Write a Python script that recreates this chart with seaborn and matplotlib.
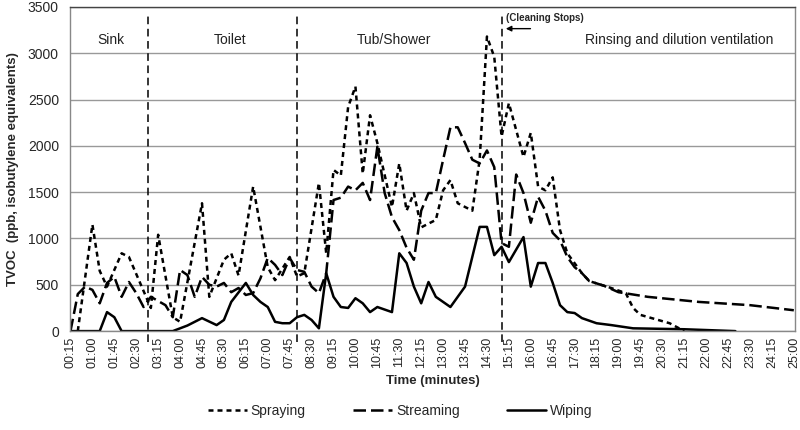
import pandas as pd
import matplotlib
matplotlib.use("Agg")
import matplotlib.pyplot as plt
import seaborn as sns

# time in seconds, TVOC in ppb
spray_t = [30, 60, 75, 90, 120, 135, 180, 195, 225, 240, 285, 300, 330, 345, 360, 390,
           420, 435, 465, 480, 495, 525, 540, 555, 570, 585, 600, 615, 630, 645, 675, 690,
           705, 720, 735, 765, 780, 795, 810, 840, 855, 870, 885, 900, 915, 945, 960, 975,
           990, 1005, 1020, 1035, 1065, 1080, 1125, 1155, 1170, 1185, 1245, 1275]
spray_v = [0, 1150, 650, 480, 840, 800, 250, 1040, 150, 100, 1380, 370, 770, 840, 600, 1560,
           690, 550, 800, 590, 625, 1600, 840, 1740, 1680, 2420, 2640, 1700, 2330, 2030, 1340, 1810,
           1300, 1490, 1120, 1200, 1520, 1630, 1380, 1300, 1850, 3180, 2960, 2100, 2460, 1880, 2140, 1560,
           1520, 1660, 1090, 840, 625, 540, 465, 410, 250, 175, 85, 0]

stream_t = [15, 30, 45, 60, 75, 90, 105, 120, 135, 150, 165, 180, 210, 225, 240, 255, 270, 285,
            300, 315, 330, 345, 360, 375, 390, 405, 420, 435, 450, 465, 480, 495, 510, 525, 540,
            555, 570, 585, 600, 615, 630, 645, 660, 675, 690, 705, 720, 735, 750, 765, 780, 795,
            810, 825, 840, 855, 870, 885, 900, 915, 930, 945, 960, 975, 990, 1005, 1020, 1035,
            1050, 1065, 1080, 1110, 1140, 1200, 1305, 1410, 1500]
stream_v = [0, 400, 480, 445, 300, 520, 585, 370, 530, 410, 260, 370, 280, 150, 660, 605, 370, 585,
            500, 480, 520, 420, 465, 390, 410, 570, 790, 715, 605, 790, 660, 640, 480, 410, 625,
            1415, 1440, 1560, 1520, 1600, 1415, 1990, 1490, 1230, 1090, 900, 770, 1300, 1490, 1490, 1850, 2200,
            2200, 2030, 1850, 1810, 1950, 1770, 950, 910, 1690, 1490, 1170, 1450, 1300, 1060, 980, 800,
            690, 625, 540, 490, 420, 370, 315, 280, 225]

wipe_t = [15, 75, 90, 105, 120, 225, 240, 255, 285, 315, 330, 345, 375, 390, 405, 420, 435, 450,
          465, 480, 495, 510, 525, 540, 555, 570, 585, 600, 615, 630, 645, 675, 690, 705, 720,
          735, 750, 765, 795, 825, 855, 870, 885, 900, 915, 945, 960, 975, 990, 1005, 1020,
          1035, 1050, 1065, 1095, 1125, 1170, 1275, 1380]
wipe_v = [0, 0, 205, 150, 0, 0, 30, 60, 140, 65, 120, 315, 520, 390, 315, 260, 100, 85,
          85, 150, 175, 120, 30, 625, 370, 260, 250, 355, 300, 205, 260, 205, 840, 735, 480,
          300, 530, 370, 260, 480, 1125, 1125, 820, 910, 745, 1015, 480, 735, 735, 520, 280,
          205, 195, 140, 85, 65, 30, 20, 0]

methods = ['Spraying', 'Streaming', 'Wiping']
phase_names = ['Sink', 'Toilet', 'Tub/Shower', 'Rinsing and dilution ventilation']
phase_bounds = [175, 480, 900]

df = pd.concat([
    pd.DataFrame({'t': spray_t, 'v': spray_v, 'method': 'Spraying'}),
    pd.DataFrame({'t': stream_t, 'v': stream_v, 'method': 'Streaming'}),
    pd.DataFrame({'t': wipe_t, 'v': wipe_v, 'method': 'Wiping'}),
])

sns.set_style("white")
plt.rcParams['font.family'] = ['Liberation Sans', 'DejaVu Sans']

fig = plt.figure(figsize=(8, 4.3), dpi=100)
ax = fig.add_axes([0.0875, 0.23, 0.906, 0.754])

sns.lineplot(data=df, x='t', y='v', style='method', style_order=methods,
             dashes={'Spraying': (2, 1.6), 'Streaming': (5, 2), 'Wiping': ''},
             color='black', linewidth=1.8, estimator=None, sort=True, legend=False, ax=ax)

ax.set_xlim(14, 1502)
ax.set_ylim(0, 3500)
ax.set_yticks(range(0, 3501, 500))
ax.yaxis.grid(True, color='#999999', linewidth=1)
ax.xaxis.grid(False)
for s in ax.spines.values():
    s.set_color('#888888')
    s.set_linewidth(1)
ax.spines['top'].set_color('#444444')

ticks = list(range(15, 1501, 45))
ax.set_xticks(ticks)
ax.set_xticklabels([f'{t // 60:02d}:{t % 60:02d}' for t in ticks], rotation=90, fontsize=9)
ax.tick_params(axis='y', labelsize=10, length=0, pad=8)
ax.tick_params(axis='x', length=0, pad=4)

ax.set_xlabel('Time (minutes)', fontsize=9.5, fontweight='bold', labelpad=5)
ax.set_ylabel('TVOC  (ppb, isobutylene equivalents)', fontsize=9.5, fontweight='bold', labelpad=6)

for b in phase_bounds:
    ax.plot([b, b], [-120, 3430], color='black', linestyle=(0, (5, 3)), linewidth=1.1, clip_on=False)

for name, xc in zip(phase_names, [97, 342, 679, 1264]):
    ax.text(xc, 3140, name, ha='center', va='center', fontsize=10, color='#222222')

ax.text(910, 3385, '(Cleaning Stops)', ha='left', va='center', fontsize=7, fontweight='bold')
ax.annotate('', xy=(903, 3265), xytext=(965, 3265),
            arrowprops=dict(arrowstyle='-|>', color='black', lw=1, mutation_scale=8))

handles = ax.get_lines()[:3]
fig.legend(handles, methods, loc='center', bbox_to_anchor=(0.5, 0.045), ncol=3,
           frameon=False, fontsize=10, handlelength=2.8, columnspacing=3.4, handletextpad=0.3)

fig.savefig('out.png', dpi=100)
